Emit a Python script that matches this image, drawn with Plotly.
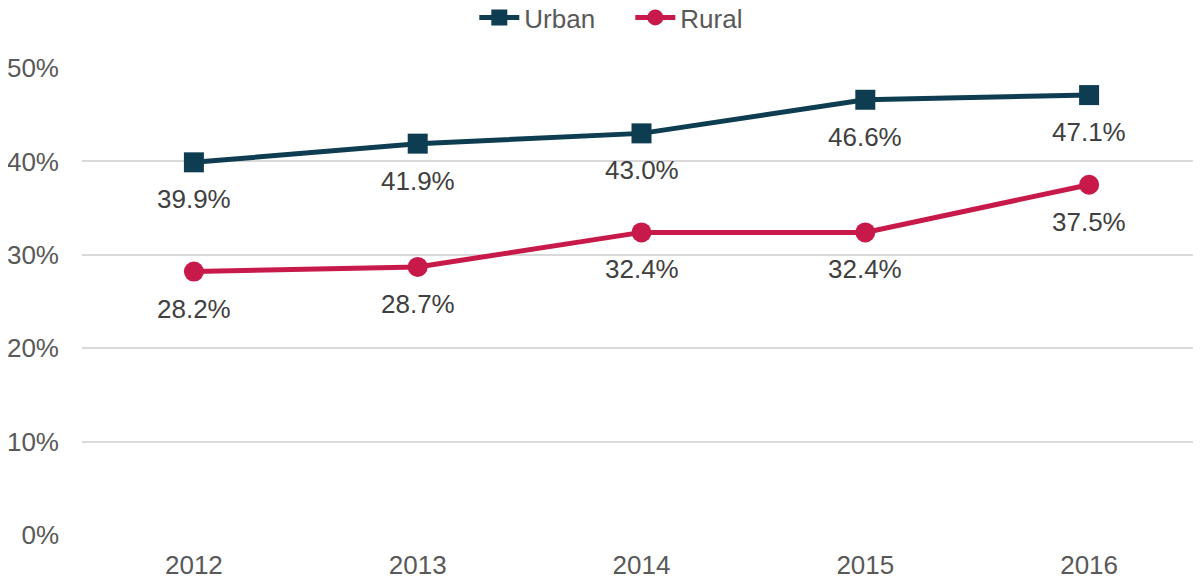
import plotly.graph_objects as go

years = ["2012", "2013", "2014", "2015", "2016"]
urban = [0.399, 0.419, 0.430, 0.466, 0.471]
rural = [0.282, 0.287, 0.324, 0.324, 0.375]
y_ticks = [0, 0.1, 0.2, 0.3, 0.4, 0.5]

URBAN_C = "#0E3D52"
RURAL_C = "#C8194B"
TEXT_C = "#595959"
LABEL_C = "#404040"
FONT = "Liberation Sans, Arial, sans-serif"
FS = 26

fig = go.Figure()
fig.add_trace(go.Scatter(
    x=years, y=urban, name="Urban", mode="lines+markers",
    line=dict(color=URBAN_C, width=5),
    marker=dict(symbol="square", size=20, color=URBAN_C),
))
fig.add_trace(go.Scatter(
    x=years, y=rural, name="Rural", mode="lines+markers",
    line=dict(color=RURAL_C, width=5),
    marker=dict(symbol="circle", size=20, color=RURAL_C),
))

for series in (urban, rural):
    for i, v in enumerate(series):
        fig.add_annotation(x=i, y=v, xref="x", yref="y", text=f"{v*100:.1f}%",
                           showarrow=False, yshift=-37, yanchor="middle",
                           font=dict(size=FS, color=LABEL_C, family=FONT))

fig.update_layout(
    width=1193, height=571,
    margin=dict(l=74, r=0, t=60, b=44, autoexpand=False),
    paper_bgcolor="white", plot_bgcolor="white",
    font=dict(family=FONT, size=FS, color=TEXT_C),
    showlegend=True,
    legend=dict(orientation="h", xref="paper", yref="paper",
                x=0.490, xanchor="center", y=1.108, yanchor="middle",
                font=dict(size=FS, color=TEXT_C), itemwidth=40,
                entrywidth=101,
                bgcolor="rgba(0,0,0,0)"),
    xaxis=dict(type="category", range=[-0.5, 4.5], showgrid=False,
               showline=False, zeroline=False, ticks="", automargin=False,
               tickfont=dict(size=FS, color=TEXT_C), ticklabelstandoff=12),
    yaxis=dict(range=[0, 0.5], tickvals=y_ticks, tickformat=".0%",
               showgrid=True, gridcolor="#D9D9D9", gridwidth=2,
               zeroline=False, showline=False, ticks="", automargin=False,
               tickfont=dict(size=FS, color=TEXT_C), ticklabelstandoff=22),
)
fig.write_html("out.html")
